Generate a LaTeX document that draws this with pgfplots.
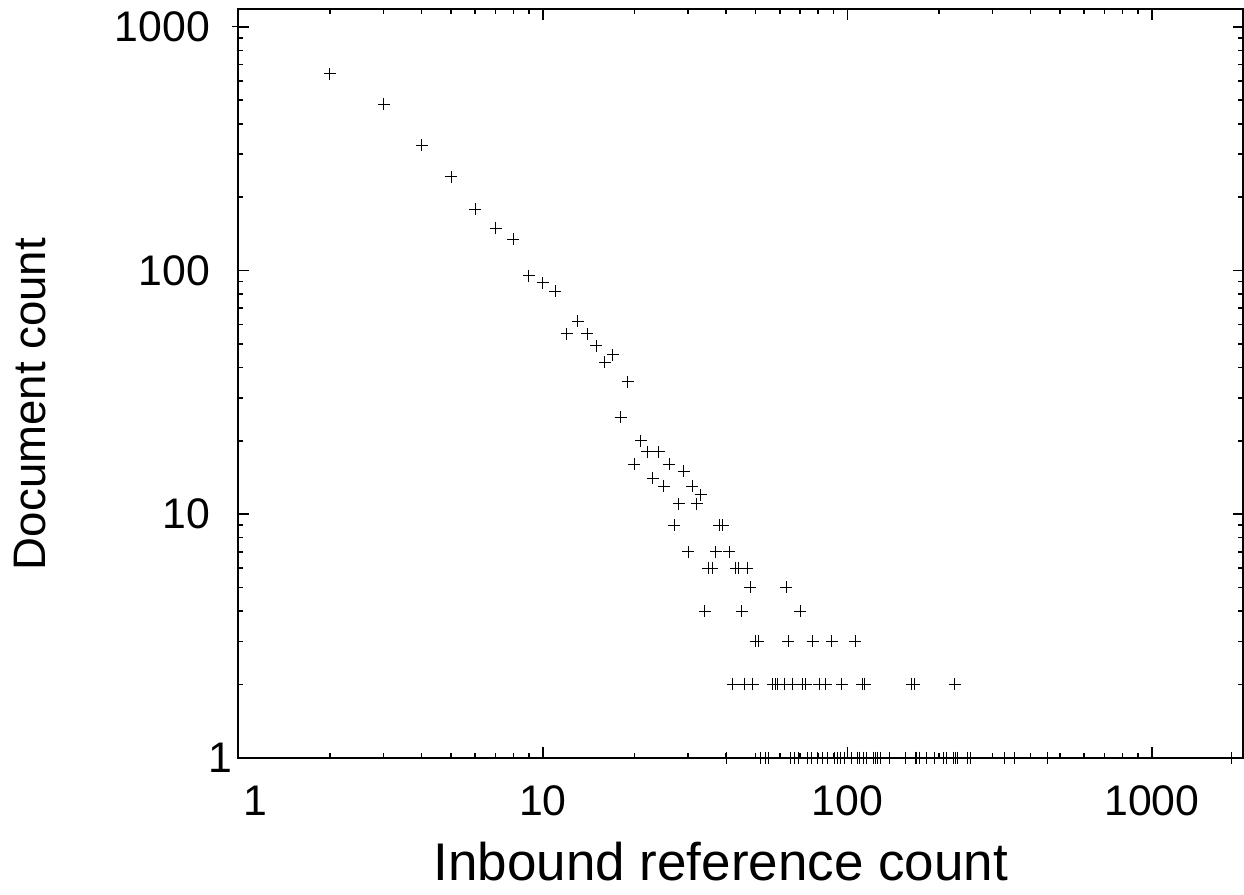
\documentclass[border=0pt]{standalone}
\usepackage{fontspec}
\setmainfont{Liberation Sans}
\usepackage{pgfplots}
\pgfplotsset{compat=1.18}

% 1 px of the reference = 0.5pt
\begin{document}
\begin{tikzpicture}
\useasboundingbox (-119.15pt,-68.65pt) rectangle (502.85pt,378.85pt);
\begin{axis}[
    at={(0,0)}, anchor=south west,
    scale only axis,
    width=502.6pt, height=374.2pt,
    xmode=log, ymode=log,
    xmin=1, xmax=2000, ymin=1, ymax=1180,
    xtick={1,10,100,1000}, xticklabels={\kern17pt 1,10,100,1000},
    ytick={1,10,100,1000}, yticklabels={1\kern-12pt,10,100,1000},
    minor xtick={2,3,4,5,6,7,8,9,20,30,40,50,60,70,80,90,200,300,400,500,600,700,800,900,2000},
    minor ytick={2,3,4,5,6,7,8,9,20,30,40,50,60,70,80,90,200,300,400,500,600,700,800,900},
    tick align=inside,
    major tick length=5.5pt, minor tick length=2.6pt,
    every tick/.style={black, line width=0.8pt},
    axis line style={line width=1pt},
    tick label style={font=\fontsize{21.4}{25}\selectfont, inner sep=0pt},
    xticklabel style={yshift=-14pt},
    yticklabel style={xshift=-14pt},
    label style={inner sep=0pt},
    xlabel={Inbound reference count},
    ylabel={Document count},
    xlabel style={font=\fontsize{26.5}{30}\selectfont, at={(axis description cs:0.48,0)}, anchor=base, yshift=-61.5pt},
    ylabel style={font=\fontsize{22.8}{27}\selectfont, at={(axis description cs:-0.192,0.4726)}, anchor=base},
    clip=false,
]
\addplot[only marks, mark=+, mark size=3pt, mark options={line width=0.5pt, black}]
coordinates {
(1,1000) (2,643) (3,481) (4,326) (5,242) (6,178) (7,149) (8,134) (9,95)
(10,89) (11,82) (12,55) (13,62) (14,55) (15,49) (16,42) (17,45) (18,25) (19,35)
(20,16) (21,20) (22,18) (23,14) (24,18) (25,13) (26,16) (27,9) (28,11) (29,15)
(30,7) (31,13) (32,11) (33,12) (34,4) (35,6) (36,6) (37,7) (38,9) (39,9)
(41,7) (43,6) (44,6) (45,4) (47,6) (48,5) (50,3) (51,3) (63,5) (64,3)
(70,4) (77,3) (89,3) (106,3)
(42,2) (46,2) (49,2) (57,2) (58,2) (59,2) (62,2) (66,2) (71,2) (73,2)
(81,2) (85,2) (96,2) (112,2) (114,2) (163,2) (166,2) (225,2)
(40,1) (52,1) (54,1) (55,1) (65,1) (67,1) (69,1) (74,1) (76,1) (80,1)
(83,1) (86,1) (91,1) (93,1) (95,1) (98,1) (103,1) (108,1) (110,1) (113,1)
(116,1) (122,1) (124,1) (126,1) (129,1) (138,1) (155,1) (167,1) (169,1) (173,1)
(182,1) (194,1) (207,1) (212,1) (223,1) (226,1) (230,1) (248,1) (254,1) (329,1)
(355,1) (456,1) (1830,1)
};
\end{axis}
\end{tikzpicture}
\end{document}
